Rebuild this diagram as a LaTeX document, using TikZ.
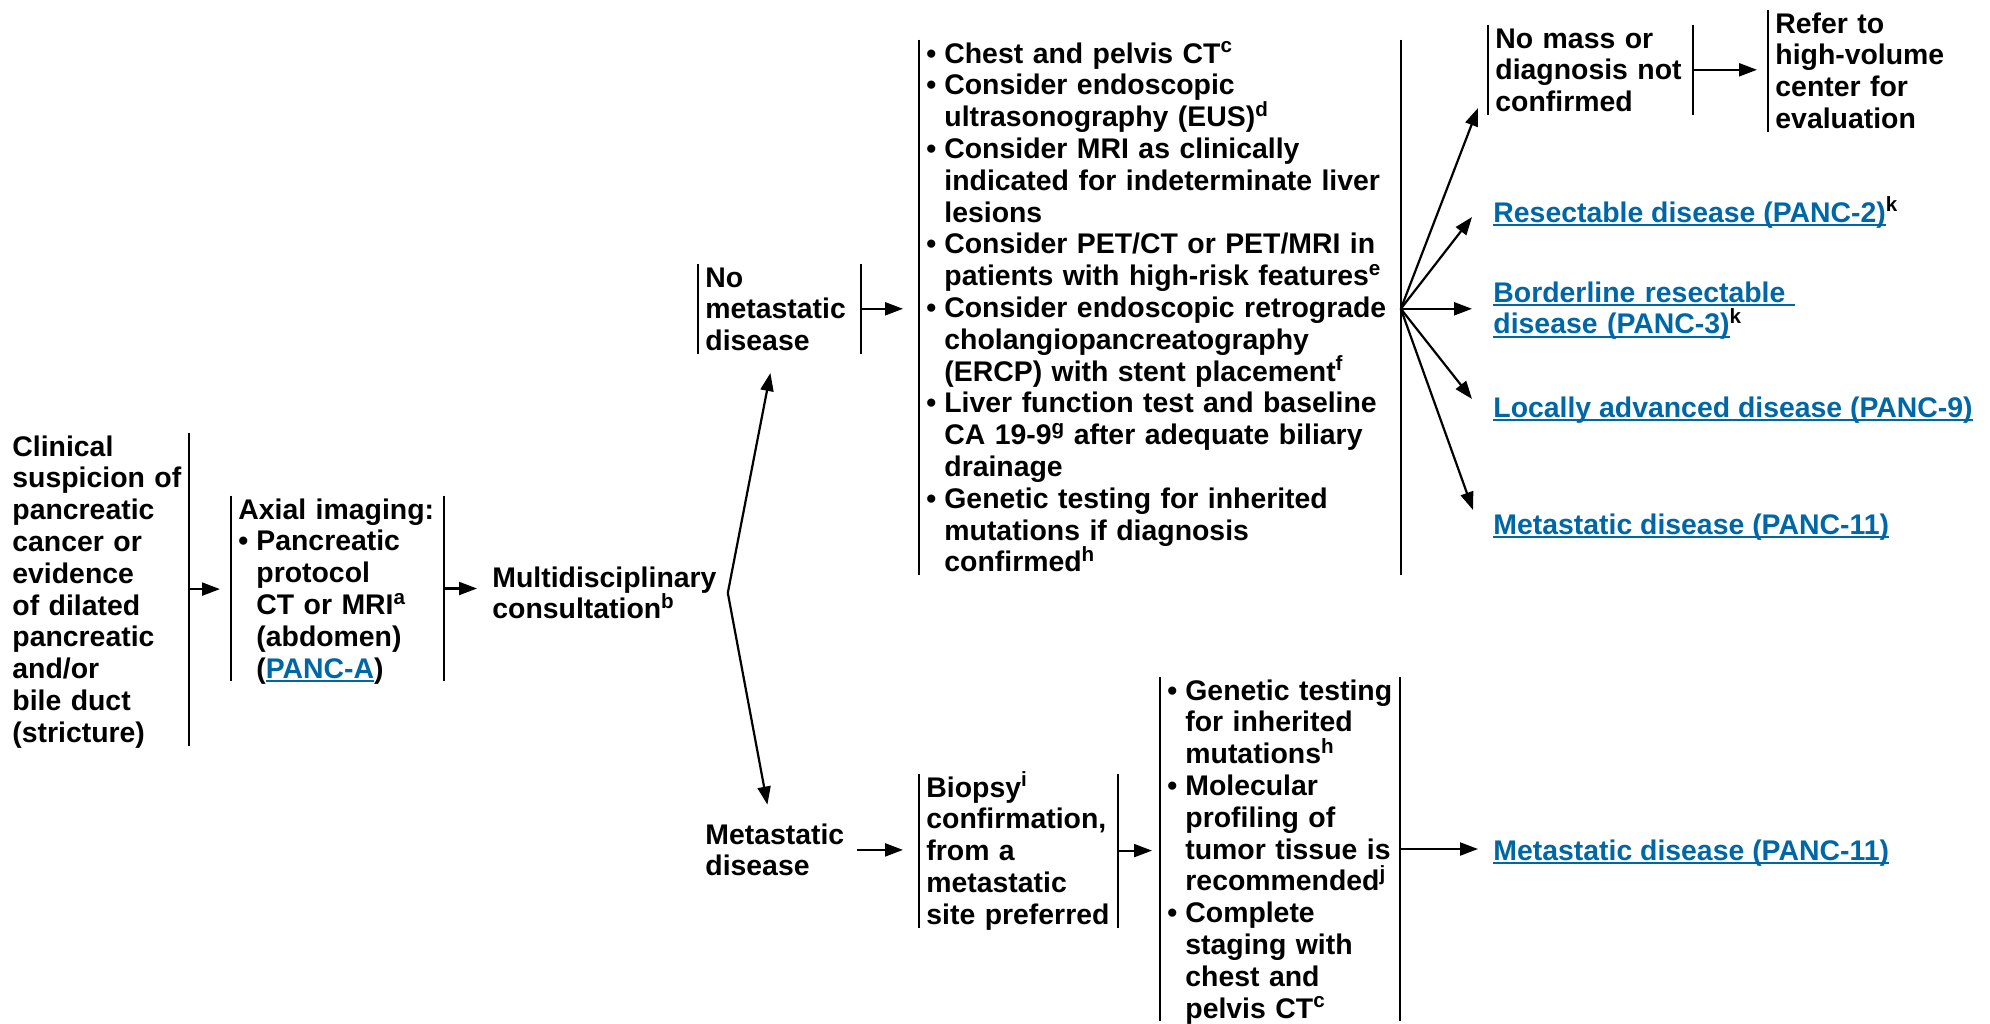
\documentclass[tikz,border=0pt]{standalone}
\usepackage{fontspec}
\setmainfont{Liberation Sans}
\usepackage{xcolor}
\usetikzlibrary{arrows.meta}
\definecolor{nccnblue}{RGB}{0,103,166}
\newsavebox\lnkbox
\newcommand\lnk[1]{\leavevmode{\color{nccnblue}\sbox\lnkbox{#1}\rlap{\rule[-1.9pt]{\wd\lnkbox}{0.85pt}}\usebox\lnkbox}}
\newcommand\supr[1]{\raisebox{5.2pt}{\fontsize{10.3}{10.3}\selectfont #1}}
\newcommand\bul{\makebox[9pt][l]{\textbullet}}
\newcommand\contd{\hspace*{9pt}}
\newcommand*\dep[1]{\the\dimexpr 15.9pt*#1-14.4pt\relax}
\tikzset{
  flowarr/.style={-{Triangle[length=9pt,width=6.5pt]}, line width=1.1pt},
  barline/.style={line width=1.2pt},
  nlines/.style={text depth=\dep{#1}},
}

\begin{document}
\begin{tikzpicture}[
  x=0.5pt, y=-0.5pt,
  flowtxt/.style={anchor=base west, inner xsep=3.5pt, inner ysep=0pt, align=left, text height=11.5pt,
    font=\fontsize{14.2}{15.9}\selectfont\bfseries},
]
  \useasboundingbox (0,0) rectangle (1990,1023);

  \node[flowtxt, nlines=10, text width=84.5pt] (clin) at (5,456)
    {Clinical\\suspicion~of\\pancreatic\\cancer or\\evidence\\of dilated\\pancreatic\\and/or\\bile duct\\(stricture)};
  \node[flowtxt, nlines=6, text width=99pt] (axial) at (231,519)
    {Axial~imaging:\\\bul Pancreatic\\\contd protocol\\\contd CT or MRI\supr{a}\\\contd (abdomen)\\\contd (\lnk{PANC-A})};
  \node[flowtxt, nlines=2, text width=118pt] (multi) at (485,587)
    {Multidisciplinary\\consultation\supr{b}};
  \coordinate (split) at ([xshift=-4pt]multi.east);

  \node[flowtxt, nlines=3, text width=74pt] (nomet) at (698,287) {No\\metastatic\\disease};
  \node[flowtxt, nlines=17, text width=233.5pt] (work) at (919,63)
    {\bul Chest and pelvis CT\supr{c}\\
     \bul Consider endoscopic\\
     \contd ultrasonography (EUS)\supr{d}\\
     \bul Consider MRI as clinically\\
     \contd indicated for indeterminate liver\\
     \contd lesions\\
     \bul Consider PET/CT or PET/MRI in\\
     \contd patients with high-risk features\supr{e}\\
     \bul Consider endoscopic retrograde\\
     \contd cholangiopancreatography\\
     \contd (ERCP) with stent placement\supr{f}\\
     \bul Liver function test and baseline\\
     \contd CA 19-9\supr{g} after adequate biliary\\
     \contd drainage\\
     \bul Genetic testing for inherited\\
     \contd mutations if diagnosis\\
     \contd confirmed\supr{h}};
  \coordinate (fan) at (work.east |- nomet.east);

  \node[flowtxt, nlines=3, text width=95pt] (nomass) at (1488,48) {No mass or\\diagnosis~not\\confirmed};
  \node[flowtxt, nlines=4, text width=90pt] (refer) at (1768,33) {Refer to\\high-volume\\center for\\evaluation};
  \node[flowtxt, nlines=1] (resect) at (1486,222) {\lnk{Resectable disease (PANC-2)}\supr{k}};
  \node[flowtxt, nlines=2, text width=200pt] (border) at (1486,302)
    {\lnk{Borderline resectable\ }\\\lnk{disease (PANC-3)}\supr{k}};
  \node[flowtxt, nlines=1] (local) at (1486,417) {\lnk{Locally advanced disease (PANC-9)}};
  \node[flowtxt, nlines=1] (metR) at (1486,534) {\lnk{Metastatic disease (PANC-11)}};

  \node[flowtxt, nlines=2, text width=72pt] (met) at (698,844) {Metastatic\\disease};
  \node[flowtxt, nlines=5, text width=92pt] (biopsy) at (919,797)
    {Biopsy\supr{i}\\confirmation,\\from a\\metastatic\\site~preferred};
  \node[flowtxt, nlines=11, text width=112.5pt] (tests) at (1160,700)
    {\bul Genetic~testing\\\contd for inherited\\\contd mutations\supr{h}\\
     \bul Molecular\\\contd profiling of\\\contd tumor~tissue~is\\\contd recommended\supr{j}\\
     \bul Complete\\\contd staging with\\\contd chest and\\\contd pelvis CT\supr{c}};
  \node[flowtxt, nlines=1] (metB) at (1486,860) {\lnk{Metastatic disease (PANC-11)}};

  % side bars
  \foreach \n in {clin,axial,nomet,work,nomass,biopsy,tests}
    \draw[barline] (\n.north east) -- (\n.south east);
  \foreach \n in {axial,nomet,work,nomass,refer,biopsy,tests}
    \draw[barline] (\n.north west) -- (\n.south west);

  % connectors
  \draw[flowarr, shorten >=5.5pt] (clin.east) -- (clin.east -| axial.west);
  \draw[flowarr, shorten >=4pt] (axial.east) -- (axial.east -| multi.west);
  \draw[flowarr] (split) -- ([xshift=-4.5pt,yshift=-9.5pt]nomet.south);
  \draw[flowarr] (split) -- ([xshift=-5pt,yshift=8pt]met.north);
  \draw[flowarr, shorten >=8pt] (nomet.east) -- (nomet.east -| work.west);
  \draw[flowarr] (fan) -- ([xshift=-5pt,yshift=3.5pt]nomass.south west);
  \draw[flowarr] (fan) -- ([xshift=-7pt,yshift=-2.5pt]resect.west);
  \draw[flowarr] (fan) -- ([xshift=-7pt]fan -| border.west);
  \draw[flowarr] (fan) -- ([xshift=-7pt,yshift=4pt]local.west);
  \draw[flowarr] (fan) -- ([xshift=-6.5pt,yshift=7pt]metR.west);
  \draw[flowarr, shorten >=5.5pt] (nomass.east) -- (nomass.east -| refer.west);
  \draw[flowarr, shorten >=8pt] (met.east) -- (met.east -| biopsy.west);
  \draw[flowarr, shorten >=4pt] (biopsy.east) -- (biopsy.east -| tests.west);
  \draw[flowarr, shorten >=4pt] (tests.east) -- (tests.east -| metB.west);
\end{tikzpicture}
\end{document}
